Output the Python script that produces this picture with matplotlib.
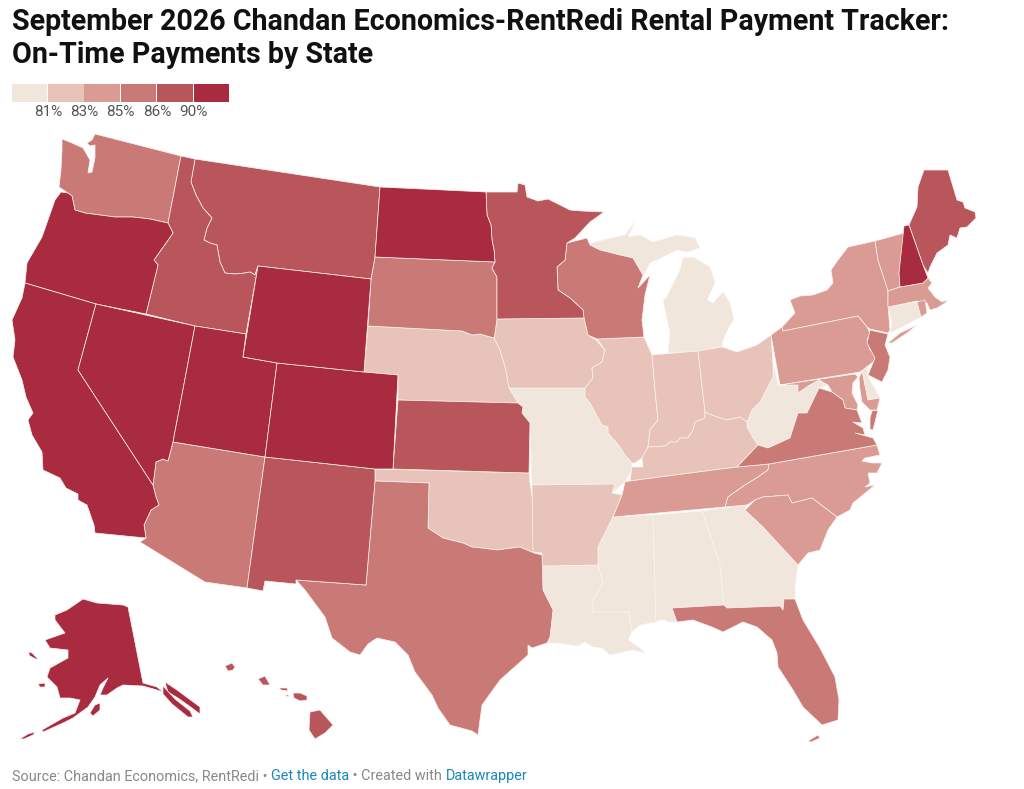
import numpy as np
import matplotlib
matplotlib.use('Agg')
import matplotlib.pyplot as plt
from matplotlib.patches import Polygon, Rectangle

plt.rcParams['font.family'] = ['Roboto', 'DejaVu Sans']

# on-time share read from the legend bins (estimates within each bin)
states = ['MO', 'MI', 'WV', 'CT', 'DE', 'LA', 'MS', 'AL', 'GA',
          'NE', 'IA', 'IL', 'IN', 'OH', 'KY', 'OK', 'AR',
          'NY', 'VT', 'PA', 'MA', 'RI', 'TN', 'NC', 'SC', 'MD',
          'WA', 'SD', 'WI', 'AZ', 'TX', 'FL', 'VA', 'NJ',
          'MT', 'ID', 'MN', 'KS', 'NM', 'ME', 'HI',
          'OR', 'CA', 'NV', 'UT', 'CO', 'WY', 'ND', 'NH', 'AK']
on_time = [80, 80, 80, 80, 80, 80, 80, 80, 80,
           82, 82, 82, 82, 82, 82, 82, 82,
           84, 84, 84, 84, 84, 84, 84, 84, 84,
           85.5, 85.5, 85.5, 85.5, 85.5, 85.5, 85.5, 85.5,
           88, 88, 88, 88, 88, 88, 88,
           91, 91, 91, 91, 91, 91, 91, 91, 91]

bin_edges = [81, 83, 85, 86, 90]
bin_labels = ['81%', '83%', '85%', '86%', '90%']
bin_colors = ['#f0e6db', '#e8c3b9', '#d99b94', '#ca7a76', '#b9565b', '#a92b3f']

outlines = {
    'WA': [[(62,139),(72,143),(83,148),(90,160),(88,173),(92,172),(95,158),(95,145),(90,146),(87,143),(92,140),(95,134),(181,156),(168,223),(150,219),(133,217),(115,217),(100,215),(85,213),(75,210),(72,196),(68,193),(59,187),(61,170),(62,150)]],
    'OR': [[(61,192),(68,193),(72,196),(75,210),(85,213),(100,215),(115,217),(133,217),(150,219),(168,223),(173,233),(154,260),(158,265),(146,314),(96,304),(25,283),(27,263),(42,237),(55,200)]],
    'CA': [[(25,283),(96,304),(78,370),(153,485),(156,497),(159,505),(151,510),(144,525),(146,538),(95,533),(94,525),(87,505),(78,500),(78,494),(66,488),(60,478),(43,470),(42,452),(32,435),(28,420),(33,413),(26,397),(22,380),(13,357),(15,340),(12,320),(22,298)]],
    'NV': [[(96,304),(195,326),(173,442),(168,461),(163,459),(156,462),(153,485),(78,370)]],
    'ID': [[(181,156),(195,159),(191,182),(196,195),(203,208),(212,218),(207,228),(204,240),(210,243),(217,245),(220,262),(225,273),(235,274),(245,273),(250,272),(255,275),(258,266),(246,334),(195,326),(146,314),(158,265),(154,260),(173,233),(168,223)]],
    'MT': [[(195,159),(380,187),(375,257),(371,279),(258,266),(255,275),(250,272),(245,273),(235,274),(225,273),(220,262),(217,245),(210,243),(204,240),(207,228),(212,218),(203,208),(196,195),(191,182)]],
    'WY': [[(258,266),(371,279),(364,372),(277,363),(243,357)]],
    'UT': [[(195,326),(246,334),(243,357),(277,363),(265,457),(173,442)]],
    'CO': [[(277,363),(364,372),(398,375),(393,469),(375,469),(265,457)]],
    'AZ': [[(173,442),(265,457),(247,588),(205,582),(140,542),(146,538),(144,525),(151,510),(159,505),(156,497),(153,485),(156,462),(163,459),(168,461)]],
    'NM': [[(265,457),(375,469),(375,481),(366,585),(296,580),(296,584),(265,581),(263,591),(247,588)]],
    'ND': [[(380,187),(486,192),(487,215),(491,225),(492,240),(494,250),(495,262),(375,257)]],
    'SD': [[(375,257),(495,262),(492,268),(497,277),(497,319),(495,333),(494,338),(480,334),(472,335),(462,331),(368,326),(371,279)]],
    'NE': [[(368,326),(462,331),(472,335),(480,334),(494,338),(500,350),(506,370),(509,388),(518,403),(398,400),(398,375),(364,372)]],
    'KS': [[(398,400),(518,403),(523,407),(522,413),(530,423),(529,473),(393,469)]],
    'OK': [[(375,469),(529,473),(530,483),(534,510),(534,553),(520,547),(497,550),(482,548),(472,547),(463,543),(443,538),(428,528),(429,483),(375,481)]],
    'TX': [[(375,481),(429,483),(428,528),(443,538),(463,543),(472,547),(482,548),(497,550),(520,547),(534,553),(542,555),(543,590),(553,610),(550,637),(547,643),(532,648),(528,645),(528,655),(500,680),(482,705),(478,735),(472,731),(450,725),(438,708),(432,695),(415,672),(408,655),(395,642),(377,638),(368,644),(360,655),(350,652),(332,638),(325,617),(305,590),(296,580),(366,585)]],
    'MN': [[(486,192),(517,192),(518,183),(525,185),(527,197),(538,201),(548,199),(560,205),(570,210),(582,211),(604,212),(590,222),(575,238),(567,243),(565,260),(557,267),(558,290),(570,298),(583,310),(584,318),(497,319),(497,277),(492,268),(495,262),(494,250),(492,240),(491,225),(487,215)]],
    'IA': [[(497,319),(584,318),(588,335),(596,340),(605,350),(602,362),(592,368),(593,378),(585,388),(509,388),(506,370),(500,350),(494,338),(495,333)]],
    'MO': [[(509,388),(585,388),(585,397),(590,403),(602,425),(608,427),(608,433),(620,447),(625,455),(632,463),(632,470),(625,482),(612,493),(615,484),(532,485),(530,423),(522,413),(523,407),(518,403)]],
    'AR': [[(532,485),(615,484),(612,493),(622,495),(613,517),(605,533),(598,547),(598,565),(542,566),(542,553),(533,552)]],
    'LA': [[(542,566),(598,565),(603,583),(593,600),(593,612),(629,612),(631,625),(632,632),(628,640),(640,648),(645,653),(633,650),(623,652),(610,655),(602,648),(593,647),(585,642),(578,646),(557,643),(547,643),(550,637),(553,610),(543,590)]],
    'WI': [[(567,243),(587,238),(590,245),(600,250),(620,255),(633,258),(640,270),(643,275),(638,288),(650,275),(645,295),(642,320),(644,337),(597,339),(588,335),(584,318),(583,310),(570,298),(558,290),(557,267),(565,260)]],
    'IL': [[(597,339),(644,337),(652,355),(655,390),(658,420),(650,430),(648,447),(642,458),(635,463),(632,463),(625,455),(620,447),(608,433),(608,427),(602,425),(590,403),(585,397),(585,388),(593,378),(592,368),(602,362),(605,350)]],
    'IN': [[(652,355),(698,351),(705,412),(705,418),(695,422),(693,430),(688,438),(680,438),(677,442),(670,442),(665,446),(650,447),(648,447),(650,430),(658,420),(655,390)]],
    'OH': [[(698,351),(722,347),(737,352),(757,345),(771,335),(773,365),(773,377),(760,402),(752,410),(747,422),(740,417),(727,420),(717,417),(705,412)]],
    'MI': [[(668,353),(670,333),(663,300),(666,298),(680,270),(683,258),(693,257),(710,267),(715,283),(707,300),(713,303),(723,292),(730,303),(734,320),(730,325),(723,340),(722,347),(698,351)],
           [(588,244),(603,240),(625,235),(635,222),(628,237),(640,235),(653,242),(677,235),(695,238),(700,248),(687,252),(677,250),(663,257),(650,263),(642,278),(638,288),(643,275),(640,270),(633,258),(620,255),(600,250)]],
    'KY': [[(630,481),(632,467),(643,467),(642,458),(648,447),(650,447),(665,446),(670,442),(677,442),(680,438),(688,438),(693,430),(695,422),(705,418),(705,412),(717,417),(727,420),(740,417),(747,422),(747,427),(753,438),(758,445),(737,467),(652,478)]],
    'TN': [[(625,482),(630,481),(652,478),(737,467),(769,464),(768,470),(758,477),(745,485),(728,497),(725,507),(613,517),(622,495)]],
    'MS': [[(613,517),(653,515),(656,622),(640,625),(632,632),(631,625),(629,612),(593,612),(593,600),(603,583),(598,565),(598,547),(605,533)]],
    'AL': [[(653,515),(702,511),(720,565),(722,585),(724,605),(672,608),(677,622),(668,622),(665,620),(660,620),(656,622)]],
    'GA': [[(702,511),(747,505),(745,510),(763,527),(787,553),(798,565),(795,587),(795,599),(784,599),(783,610),(780,606),(727,608),(724,605),(722,585),(720,565)]],
    'FL': [[(672,608),(724,605),(727,608),(780,606),(783,610),(784,599),(795,599),(803,620),(820,648),(835,677),(839,700),(838,720),(822,725),(803,707),(793,690),(778,667),(777,653),(772,640),(757,627),(743,622),(723,632),(712,627),(693,620),(677,622)],
           [(808,741),(818,735),(820,738),(811,742)]],
    'SC': [[(745,510),(755,500),(763,497),(788,495),(792,503),(812,498),(837,517),(828,530),(820,550),(808,553),(798,565),(787,553),(763,527)]],
    'NC': [[(769,464),(877,445),(880,455),(865,458),(862,461),(872,463),(882,463),(877,473),(868,473),(870,483),(865,487),(875,485),(853,503),(850,510),(837,517),(812,498),(792,503),(788,495),(763,497),(755,500),(747,505),(725,507),(728,497),(745,485),(758,477),(768,470)]],
    'VA': [[(737,467),(758,445),(768,448),(790,438),(798,413),(807,413),(819,388),(832,392),(843,400),(845,408),(857,410),(862,423),(853,422),(863,428),(865,435),(855,433),(873,438),(877,445),(769,464)],
           [(872,411),(878,410),(873,430),(870,429),(870,418)]],
    'WV': [[(775,370),(778,385),(798,385),(798,393),(808,386),(817,380),(828,385),(819,388),(807,413),(798,413),(790,438),(768,448),(758,445),(753,438),(747,427),(747,422),(752,410),(760,402),(773,377),(773,365)]],
    'PA': [[(771,335),(782,327),(783,331),(858,316),(867,327),(870,333),(867,340),(870,350),(877,355),(873,362),(860,372),(780,385)]],
    'NY': [[(783,331),(782,327),(795,313),(790,300),(800,296),(813,295),(827,290),(833,283),(831,270),(838,260),(848,247),(875,241),(878,260),(888,290),(888,305),(890,330),(888,333),(870,329),(867,327),(858,316)],
           [(888,343),(900,333),(917,325),(907,333),(892,343)]],
    'VT': [[(875,241),(904,233),(899,273),(900,287),(888,291),(878,260)]],
    'NH': [[(904,226),(909,225),(923,265),(928,278),(923,283),(900,287),(899,273)]],
    'ME': [[(909,225),(917,207),(918,187),(924,170),(948,170),(957,200),(963,202),(965,208),(975,212),(976,218),(967,227),(960,228),(957,238),(950,235),(948,245),(937,253),(930,267),(928,273),(923,265)]],
    'MA': [[(888,291),(900,287),(923,283),(928,278),(932,283),(928,288),(935,297),(942,302),(948,300),(945,303),(937,308),(930,310),(927,303),(917,301),(888,307)]],
    'RI': [[(917,302),(925,300),(927,313),(921,317)]],
    'CT': [[(888,307),(917,302),(921,317),(890,333),(892,323)]],
    'NJ': [[(870,330),(888,334),(885,345),(890,357),(888,370),(882,382),(868,375),(875,358),(867,343)]],
    'DE': [[(862,370),(867,367),(868,377),(880,398),(868,400)]],
    'MD': [[(780,385),(855,374),(858,377),(853,383),(852,393),(858,405),(857,410),(845,408),(843,400),(832,392),(828,385),(819,380),(808,386),(798,393),(798,385),(778,385)],
           [(859,378),(862,371),(868,400),(880,398),(877,410),(870,410),(862,402),(860,390)]],
    'AK': [[(128,607),(143,683),(157,687),(163,692),(157,690),(143,686),(123,685),(117,688),(107,695),(100,695),(103,688),(108,678),(100,685),(95,697),(88,707),(73,718),(63,723),(43,732),(42,730),(63,718),(75,713),(80,700),(70,698),(60,698),(57,687),(47,677),(50,668),(68,658),(68,650),(50,648),(45,640),(65,633),(55,620),(55,615),(67,610),(83,599),(97,603),(123,605)],
           [(20,739),(28,734),(35,732),(33,735),(24,739)],
           [(28,652),(32,653),(38,659),(36,659),(30,656)],
           [(38,684),(45,683),(45,687),(40,687)],
           [(90,713),(95,705),(100,703),(100,710),(93,716)],
           [(165,682),(177,690),(200,707),(200,714),(192,708),(178,698),(168,692)],
           [(163,686),(175,699),(190,711),(193,717),(188,717),(172,704),(163,694)]],
    'HI': [[(225,666),(232,663),(235,667),(233,670),(228,671)],
           [(258,679),(265,676),(270,685),(263,685)],
           [(279,688),(287,688),(288,691),(281,690)],
           [(285,695),(289,695),(288,697)],
           [(293,693),(300,693),(307,696),(307,700),(300,701),(294,698)],
           [(310,712),(320,710),(333,725),(325,733),(315,739),(309,730)]],
}

fig = plt.figure(figsize=(10.24, 7.89), dpi=100)
ax = fig.add_axes([0, 0, 1, 1])
ax.set_xlim(0, 1024)
ax.set_ylim(789, 0)
ax.axis('off')

for state, value in zip(states, on_time):
    color = bin_colors[np.digitize(value, bin_edges)]
    for part in outlines[state]:
        ax.add_patch(Polygon(part, closed=True, facecolor=color,
                             edgecolor='#fbf3ee', linewidth=0.5, joinstyle='round'))

ax.text(12, 22, 'September 2026 Chandan Economics-RentRedi Rental Payment Tracker:',
        fontsize=20.65, fontweight='bold', color='#111111', va='center', ha='left')
ax.text(12, 55, 'On-Time Payments by State',
        fontsize=20.65, fontweight='bold', color='#111111', va='center', ha='left')

# legend
swatch = 36.4
for i, c in enumerate(bin_colors):
    ax.add_patch(Rectangle((11.5 + i * swatch, 84), swatch - 0.8, 17.5,
                           facecolor=c, edgecolor='none'))
for i, lab in enumerate(bin_labels):
    ax.text(11.5 + (i + 1) * swatch, 112, lab, fontsize=11, color='#555555',
            ha='center', va='center')

# footer, one colour per piece
pieces = [('Source: Chandan Economics, RentRedi • ', '#888888'),
          ('Get the data', '#1a87b8'),
          (' • Created with ', '#888888'),
          ('Datawrapper', '#1a87b8')]
renderer = fig.canvas.get_renderer()
x = 12
for s, c in pieces:
    t = ax.text(x, 776, s, fontsize=10.4, color=c, ha='left', va='center')
    x += t.get_window_extent(renderer).width

fig.savefig('out.png', dpi=100)
